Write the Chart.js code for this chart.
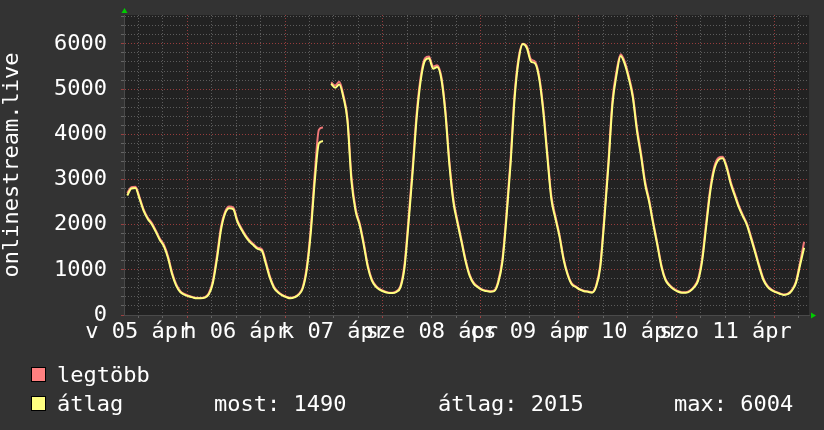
<!DOCTYPE html>
<html>
<head>
<meta charset="utf-8">
<script src="https://cdn.jsdelivr.net/npm/chart.js@4/dist/chart.umd.min.js"></script>
<style>
  html, body { margin: 0; padding: 0; background: #333; }
  #wrap { width: 824px; height: 430px; }
</style>
</head>
<body>
<div id="wrap"><canvas id="chart" width="824" height="430"></canvas></div>
<script>
// hours are counted from 00:00 on 05 ápr, one sample per hour
const firstHour = 9.3
const stepHours = 1

// day labels (centred on noon of each day)
const dayLabelHours = [12, 36, 60, 84, 108, 132, 156]
const dayLabels = ['v 05 ápr', 'h 06 ápr', 'k 07 ápr', 'sze 08 ápr', 'cs 09 ápr', 'p 10 ápr', 'szo 11 ápr']

const yLabels = [0, 1000, 2000, 3000, 4000, 5000, 6000]

// átlag (average listeners)
const avgValues = [
    2645, 2800, 2810, 2575, 2310, 2130, 2010, 1845, 1661, 1520,
    1260, 900, 650, 510, 450, 415, 390, 370, 369, 385,
    460, 710, 1240, 1890, 2250, 2365, 2340, 2065, 1890, 1740,
    1625, 1540, 1465, 1425, 1130, 815, 600, 500, 435, 395,
    370, 390, 445, 580, 990, 1810, 2980, 3800, 3850, null,
    5117, 5030, 5100, 4820, 4300, 2950, 2300, 1990, 1550, 1060,
    760, 625, 555, 515, 490, 485, 510, 610, 1050, 2050,
    3170, 4390, 5210, 5630, 5680, 5450, 5490, 5240, 4490, 3330,
    2490, 2030, 1610, 1180, 860, 690, 615, 554, 530, 517,
    530, 720, 1170, 2150, 3330, 4800, 5650, 6000, 5910, 5611,
    5570, 5250, 4530, 3530, 2570, 2140, 1740, 1230, 890, 680,
    620, 560, 527, 513, 495, 630, 1050, 2100, 3300, 4660,
    5320, 5735, 5560, 5235, 4810, 4080, 3520, 2900, 2500, 2010,
    1550, 1070, 775, 650, 570, 520, 495, 495, 525, 610,
    760, 1200, 1970, 2740, 3230, 3435, 3470, 3260, 2905, 2640,
    2380, 2180, 1985, 1690, 1380, 1060, 780, 630, 550, 505,
    470, 445, 460, 540, 710, 1100, 1490
]

// legtöbb (peak listeners)
const maxValues = [
    2700, 2830, 2840, 2610, 2340, 2160, 2040, 1870, 1690, 1550,
    1300, 940, 680, 530, 465, 430, 400, 380, 378, 395,
    480, 760, 1320, 1960, 2290, 2400, 2380, 2100, 1920, 1770,
    1650, 1565, 1490, 1455, 1180, 850, 625, 515, 448, 405,
    380, 400, 460, 610, 1060, 1920, 3150, 4100, 4150, null,
    5150, 5080, 5160, 4870, 4360, 3050, 2360, 2030, 1600, 1100,
    790, 645, 570, 528, 500, 495, 525, 640, 1130, 2160,
    3290, 4490, 5290, 5680, 5720, 5500, 5530, 5290, 4560, 3410,
    2560, 2080, 1650, 1220, 890, 710, 630, 568, 542, 528,
    545, 760, 1240, 2250, 3440, 4900, 5710, 6004, 5950, 5660,
    5610, 5300, 4600, 3610, 2640, 2190, 1780, 1270, 920, 700,
    635, 572, 538, 523, 508, 660, 1110, 2190, 3400, 4760,
    5400, 5770, 5610, 5290, 4870, 4150, 3590, 2960, 2550, 2050,
    1590, 1110, 800, 668, 584, 532, 506, 506, 538, 630,
    800, 1270, 2060, 2820, 3290, 3480, 3500, 3300, 2950, 2680,
    2420, 2210, 2020, 1730, 1420, 1100, 810, 650, 565, 516,
    480, 455, 472, 560, 740, 1160, 1620
]

const legendStats = ['most: 1490', 'átlag: 2015', 'max: 6004']

const FONT = '"DejaVu Sans Mono", monospace'
const minorGrid = 'rgba(140,140,140,0.55)'
const majorGrid = 'rgba(190,70,70,0.75)'

const toPoints = vals => vals.map((v, i) => ({x: firstHour + i * stepHours, y: v}))

// page + plot background
const backgroundPlugin = {
    id: 'rrdBackground',
    beforeDraw(chart) {
        const {ctx, chartArea: a} = chart
        ctx.save()
        ctx.fillStyle = '#333333'
        ctx.fillRect(0, 0, chart.width, chart.height)
        ctx.fillStyle = '#222222'
        ctx.fillRect(a.left, a.top, a.right - a.left, a.bottom - a.top)
        ctx.restore()
    }
}

// green arrows + legend lines at the bottom
const legendPlugin = {
    id: 'rrdLegend',
    afterDraw(chart) {
        const {ctx, chartArea: a} = chart
        ctx.save()
        ctx.fillStyle = '#00cc00'
        ctx.beginPath()
        ctx.moveTo(a.left + 0.5, a.top - 7)
        ctx.lineTo(a.left - 2.5, a.top - 2)
        ctx.lineTo(a.left + 3.5, a.top - 2)
        ctx.fill()
        ctx.beginPath()
        ctx.moveTo(a.right + 7, a.bottom + 0.5)
        ctx.lineTo(a.right + 2, a.bottom - 2.5)
        ctx.lineTo(a.right + 2, a.bottom + 3.5)
        ctx.fill()

        ctx.font = '22px ' + FONT
        ctx.textBaseline = 'alphabetic'
        const box = (x, y, color) => {
            ctx.fillStyle = color
            ctx.fillRect(x, y, 15, 15)
            ctx.strokeStyle = '#000'
            ctx.lineWidth = 1
            ctx.strokeRect(x + 0.5, y + 0.5, 14, 14)
        }
        box(31, 367, '#ff8080')
        box(31, 396, '#ffff80')
        ctx.fillStyle = '#ffffff'
        ctx.fillText('legtöbb', 57, 382)
        ctx.fillText('átlag', 57, 411)
        ctx.fillText(legendStats[0], 214, 411)
        ctx.fillText(legendStats[1], 438, 411)
        ctx.fillText(legendStats[2], 674, 411)
        ctx.restore()
    }
}

new Chart(document.getElementById('chart'), {
    type: 'line',
    data: {
        datasets: [{
            label: 'átlag',
            data: toPoints(avgValues),
            borderColor: '#ffff80',
            borderWidth: 2,
            pointRadius: 0,
            cubicInterpolationMode: 'monotone'
        }, {
            label: 'legtöbb',
            data: toPoints(maxValues),
            borderColor: '#f07878',
            borderWidth: 2,
            pointRadius: 0,
            cubicInterpolationMode: 'monotone'
        }]
    },
    options: {
        responsive: false,
        animation: false,
        events: [],
        devicePixelRatio: 1,
        layout: {padding: {top: 15, right: 15, bottom: 80, left: 0}},
        plugins: {legend: {display: false}, tooltip: {enabled: false}},
        scales: {
            x: {
                type: 'linear',
                min: 8.5,
                max: 176.5,
                afterBuildTicks: scale => {
                    const ticks = []
                    for (let h = 12; h <= 174; h += 6) ticks.push({value: h})
                    scale.ticks = ticks
                },
                afterFit: scale => { scale.height = 35 },
                ticks: {
                    autoSkip: false,
                    maxRotation: 0,
                    padding: 1,
                    color: '#ffffff',
                    font: {family: FONT, size: 22},
                    callback: v => {
                        const i = dayLabelHours.indexOf(v)
                        return i >= 0 ? dayLabels[i] : ''
                    }
                },
                grid: {
                    color: c => (c.tick && c.tick.value % 24 === 0) ? majorGrid : minorGrid,
                    tickLength: 3
                },
                border: {color: '#4a4a4a', dash: [1, 2]}
            },
            y: {
                min: 0,
                max: 6640,
                afterBuildTicks: scale => {
                    const ticks = []
                    for (let v = 0; v <= 6600; v += 200) ticks.push({value: v})
                    scale.ticks = ticks
                },
                afterFit: scale => {
                    scale.width = 124
                    scale.paddingTop = 0
                    scale.paddingBottom = 0
                },
                ticks: {
                    autoSkip: false,
                    padding: 14,
                    color: '#ffffff',
                    font: {family: FONT, size: 22},
                    callback: v => yLabels.includes(v) ? String(v) : ''
                },
                grid: {
                    color: c => (c.tick && c.tick.value % 1000 === 0) ? majorGrid : minorGrid,
                    tickLength: 3
                },
                border: {color: '#4a4a4a', dash: [1, 2]},
                title: {
                    display: true,
                    text: 'onlinestream.live',
                    color: '#ffffff',
                    font: {family: FONT, size: 22, lineHeight: 1.1},
                    padding: 0
                }
            }
        }
    },
    plugins: [backgroundPlugin, legendPlugin]
})
</script>
</body>
</html>
